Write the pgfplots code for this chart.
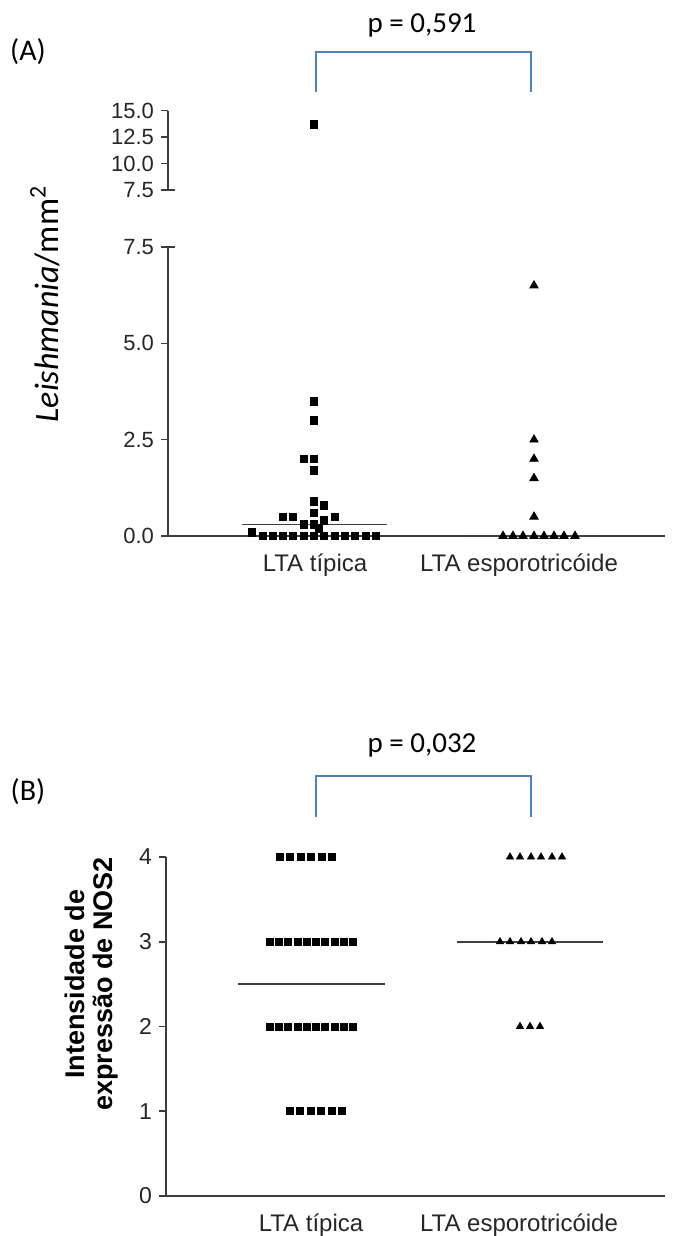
\documentclass[border=0pt]{standalone}
\usepackage{pgfplots}
\pgfplotsset{compat=1.18}
\usepackage{fontspec}
\setmainfont{Liberation Sans}
\newfontfamily\calibri{Carlito}
\definecolor{axgray}{RGB}{60,60,60}
\definecolor{brblue}{RGB}{79,129,189}

% x positions are horizontal pixel positions of the dots (column scatter)
\pgfplotsset{
  dotaxis/.style={
    scale only axis, clip=false,
    axis x line=bottom, axis y line=left,
    axis line style={-, draw=axgray, line width=0.8pt},
    tick style={draw=axgray, line width=0.8pt},
    tick align=outside, major tick length=3.5pt,
    xtick style={draw=none},
    /pgf/number format/assume math mode=true,
    yticklabel style={font=\fontsize{11}{13}\selectfont, text=black!85},
    xticklabel style={font=\fontsize{12}{14}\selectfont, text=black!85, yshift=-2pt},
  },
  sq/.style={only marks, mark=square*, mark size=1.9pt, black},
  tri/.style={only marks, mark=triangle*, mark size=2.4pt, black},
  med/.style={black!75, line width=0.8pt, mark=none},
}

\begin{document}
\begin{tikzpicture}
\useasboundingbox (0,0) rectangle (338.5pt,-618pt);

% ---------- panel A, upper segment ----------
\begin{axis}[dotaxis, at={(84pt,-95pt)}, anchor=south west,
  width=248.5pt, height=39.65pt,
  xmin=168, xmax=665, ymin=7.5, ymax=15,
  axis x line=none,
  ytick={7.5,10,12.5,15},
  yticklabel style={/pgf/number format/.cd, fixed, fixed zerofill, precision=1},
]
\addplot[sq] coordinates {(314,13.7)};
\end{axis}

% ---------- panel A, lower segment ----------
\begin{axis}[dotaxis, at={(84pt,-268pt)}, anchor=south west,
  width=248.5pt, height=144.5pt,
  xmin=168, xmax=665, ymin=0, ymax=7.5,
  ytick={0,2.5,5,7.5},
  yticklabel style={/pgf/number format/.cd, fixed, fixed zerofill, precision=1},
  xtick={315,519}, xticklabels={LTA típica, LTA esporotricóide},
]
\addplot[med] coordinates {(242,0.3) (387,0.3)};
\addplot[med] coordinates {(462,0) (606,0)};
\addplot[sq] coordinates {
  (314,3.5) (314,3.0) (304,2.0) (314,2.0) (314,1.7) (314,0.9) (324,0.8)
  (283,0.5) (293,0.5) (335,0.5) (314,0.6) (304,0.3) (314,0.3) (324,0.4)
  (319,0.2) (252,0.1)
  (263,0) (273,0) (283,0) (293,0) (304,0) (314,0)
  (324,0) (335,0) (345,0) (355,0) (366,0) (376,0)
};
\addplot[tri] coordinates {
  (534,6.5) (534,2.5) (534,2.0) (534,1.5) (534,0.5)
  (503,0) (513,0) (523,0) (534,0) (544,0) (554,0) (564,0) (575,0)
};
\end{axis}

% caps at the ends of the broken y axis
\draw[axgray, line width=0.8pt] (84pt,-95pt) -- (87.5pt,-95pt);
\draw[axgray, line width=0.8pt] (84pt,-123.5pt) -- (87.5pt,-123.5pt);

% ---------- panel B ----------
\begin{axis}[dotaxis, at={(83pt,-598pt)}, anchor=south west,
  width=249.5pt, height=169.5pt,
  xmin=166, xmax=665, ymin=0, ymax=4,
  ytick={0,1,2,3,4},
  yticklabel style={font=\fontsize{11.5}{13}\selectfont},
  xtick={311,519}, xticklabels={LTA típica, LTA esporotricóide},
]
\addplot[med] coordinates {(238,2.5) (385,2.5)};
\addplot[med] coordinates {(457,3) (603,3)};
\addplot[sq, mark size=1.8pt] coordinates {
  (280,4) (290,4) (301,4) (311,4) (322,4) (332,4)
  (270,3) (279,3) (288,3) (298,3) (307,3) (316,3) (325,3) (335,3) (344,3) (353,3)
  (270,2) (279,2) (288,2) (298,2) (307,2) (316,2) (325,2) (335,2) (344,2) (353,2)
  (290,1) (300,1) (311,1) (321,1) (332,1) (342,1)
};
\addplot[tri, mark size=2pt] coordinates {
  (510,4) (520,4) (531,4) (541,4) (552,4) (562,4)
  (500,3) (510,3) (521,3) (531,3) (542,3) (552,3)
  (520,2) (530,2) (540,2)
};
\end{axis}

% ---------- labels and brackets ----------
\node[font=\calibri\fontsize{15}{17}\selectfont] at (14pt,-26pt) {(A)};
\node[font=\calibri\fontsize{15}{17}\selectfont] at (14pt,-396pt) {(B)};
\node[font=\calibri\fontsize{14.5}{16}\selectfont] at (211pt,-12.5pt) {p = 0,591};
\node[font=\calibri\fontsize{14.5}{16}\selectfont] at (211pt,-372.5pt) {p = 0,032};
\draw[brblue, line width=1pt] (158pt,-46pt) -- (158pt,-26pt) -- (265.5pt,-26pt) -- (265.5pt,-46pt);
\draw[brblue, line width=1pt] (158pt,-408.5pt) -- (158pt,-388pt) -- (265.5pt,-388pt) -- (265.5pt,-408.5pt);
\node[rotate=90, font=\calibri\fontsize{17}{19}\selectfont] at (22.5pt,-152pt)
  {\textit{Leishmania}/mm\textsuperscript{2}};
\node[rotate=90, align=center, font=\bfseries\fontsize{13.5}{14}\selectfont] at (46pt,-492pt)
  {Intensidade de\\expressão de NOS2};
\end{tikzpicture}
\end{document}
